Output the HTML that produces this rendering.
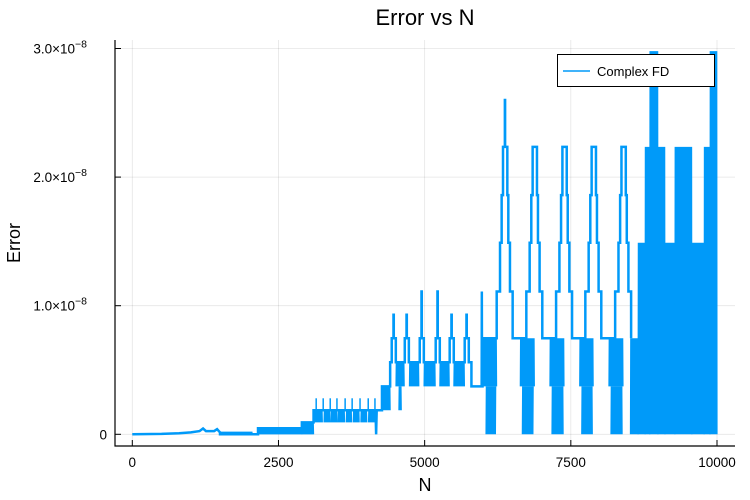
<!DOCTYPE html>
<html><head><meta charset="utf-8"><style>
body{margin:0;background:#fff;}
svg{display:block;font-family:"Liberation Sans","DejaVu Sans",sans-serif;}
</style></head><body>
<svg id="chart" width="750" height="500" viewBox="0 0 750 500">
<rect x="0" y="0" width="750" height="500" fill="#fff"/>
<g id="grid"></g>
<g id="series"></g>
<g id="axes"></g>
<text x="425" y="25" text-anchor="middle" font-size="22" fill="#000">Error vs N</text>
<text x="425" y="491" text-anchor="middle" font-size="18" fill="#000">N</text>
<text transform="translate(20,243) rotate(-90)" text-anchor="middle" font-size="18" fill="#000">Error</text>
<g>
<rect x="557.5" y="54.5" width="157" height="32" fill="#fff" stroke="#000" stroke-width="1"/>
<line x1="563" y1="71" x2="590" y2="71" stroke="#009af9" stroke-width="1.5"/>
<text x="597" y="76" font-size="13" fill="#000">Complex FD</text>
</g>
</svg>
<script>
// x ticks and y ticks
const xTicks = [0, 2500, 5000, 7500, 10000];
const yTicks = [0, 1, 2, 3]; // units of 1e-8
const yTickLabels = ["0", "1.0×10", "2.0×10", "3.0×10"];
// outline trace (N, error in units of 1e-9)
const lineN = [0,500,800,1000,1150,1210,1260,1400,1450,1500,1500,2050,2150,2150,2900,2900,3100,3100,4160,4170,4180,4270,4270,4410,4410,
4437,4437,4467,4467,4472,4472,4507,4507,
4660,4660,4690,4690,4695,4695,4730,4730,
4916,4916,4946,4946,4951,4951,4986,4986,
5189,5189,5219,5219,5224,5224,5259,5259,
5428,5428,5458,5458,5463,5463,5498,5498,
5685,5685,5715,5715,5720,5720,5755,5755,5800,5800,5975,5978,5981,5990,5990,6000,6000,6232,
6232,6289,6289,6317,6317,6340,6340,6372,6372,6376,6376,6414,6414,6431,6431,6459,6459,6505,6505,
6739,6739,6796,6796,6824,6824,6847,6847,6921,6921,6938,6938,6966,6966,7012,7012,
7248,7248,7305,7305,7333,7333,7356,7356,7430,7430,7447,7447,7475,7475,7521,7521,
7748,7748,7805,7805,7833,7833,7856,7856,7930,7930,7947,7947,7975,7975,8021,8021,
8258,8258,8315,8315,8343,8343,8366,8366,8440,8440,8457,8457,8485,8485,8531,8531];
const lineV = [0,0.03,0.08,0.15,0.25,0.45,0.25,0.25,0.4,0.15,0,0,0,0.47,0.47,0.93,0.93,1.87,1.87,0,1.87,1.87,3.73,3.73,5.6,
5.6,7.47,7.47,9.3,9.3,7.47,7.47,5.6,
5.6,7.47,7.47,9.3,9.3,7.47,7.47,5.6,
5.6,7.47,7.47,11.1,11.1,7.47,7.47,5.6,
5.6,7.47,7.47,11.1,11.1,7.47,7.47,5.6,
5.6,7.47,7.47,9.3,9.3,7.47,7.47,5.6,
5.6,7.47,7.47,9.3,9.3,7.47,7.47,5.6,5.6,3.73,3.73,11.1,3.73,3.73,5.6,5.6,7.47,7.47,
11.1,11.1,14.9,14.9,18.6,18.6,22.35,22.35,26,26,22.35,22.35,18.6,18.6,14.9,14.9,11.1,11.1,7.47,
7.47,11.1,11.1,14.9,14.9,18.6,18.6,22.35,22.35,18.6,18.6,14.9,14.9,11.1,11.1,7.47,
7.47,11.1,11.1,14.9,14.9,18.6,18.6,22.35,22.35,18.6,18.6,14.9,14.9,11.1,11.1,7.47,
7.47,11.1,11.1,14.9,14.9,18.6,18.6,22.35,22.35,18.6,18.6,14.9,14.9,11.1,11.1,7.47,
7.47,11.1,11.1,14.9,14.9,18.6,18.6,22.35,22.35,18.6,18.6,14.9,14.9,11.1,11.1,7.47];
// dense oscillating bands: start N, end N, low, high (units 1e-9)
const bandN0 = [1500,2150,2900,3110,3280,3400,3520,3660,3780,3910,4040,4270,4510,4560,4740,4990,5260,5500,6000,6050,6636,6671,7143,7178,7652,7687,8152,8187,8520,8650,8770,8850,8990,9110,9190,9280,9570,9650,9710,9780,9880];
const bandN1 = [2050,2900,3100,3250,3380,3500,3630,3750,3880,4010,4140,4410,4650,4600,4900,5180,5420,5680,6232,6215,6876,6860,7385,7370,7885,7870,8395,8380,8650,8770,8850,8990,9110,9280,9190,9570,9780,9650,9710,9880,10000];
const bandLo = [0,0,0,0.93,0.93,0.93,0.93,0.93,0.93,0.93,0.93,1.87,3.73,1.87,3.73,3.73,3.73,3.73,3.73,0,3.73,0,3.73,0,3.73,0,3.73,0,0,0,0,0,0,0,0,0,0,0,0,0,0];
const bandHi = [0.2,0.47,0.93,1.87,1.87,1.87,1.87,1.87,1.87,1.87,1.87,3.73,5.6,3.73,5.6,5.6,5.6,5.6,7.47,3.73,7.47,3.73,7.47,3.73,7.47,3.73,7.47,3.73,7.47,14.9,22.35,29.8,22.35,14.9,22.35,22.35,14.9,22.35,22.35,22.35,29.8];
// spikes: N, base, top
const spikeN = [3145,3265,3385,3500,3640,3760,3895,4035,4150];
const spikeLo = [1.87,1.87,1.87,1.87,1.87,1.87,1.87,1.87,1.87];
const spikeHi = [2.8,2.8,2.8,2.8,2.8,2.8,2.8,2.8,2.8];

const NS = 'http://www.w3.org/2000/svg';
const X0 = 132.3, XS = 584.7 / 10000;
const Y0 = 434.3, YS = 128.6 / 10; // px per 1e-9
const xp = n => X0 + n * XS;
const yp = v => Y0 - v * YS;
const color = '#009af9';

function mk(tag, attrs, parent) {
  const e = document.createElementNS(NS, tag);
  for (const k in attrs) e.setAttribute(k, attrs[k]);
  parent.appendChild(e);
  return e;
}
const grid = document.getElementById('grid');
const axes = document.getElementById('axes');
const series = document.getElementById('series');

xTicks.forEach((t, i) => {
  const g = mk('line', {x1: xp(t), x2: xp(t), y1: 40, y2: 446, stroke: '#000', 'stroke-opacity': 0.1, 'stroke-width': 0.8}, grid);
  
  
  const tk = mk('line', {x1: xp(t), x2: xp(t), y1: 446, y2: 440, stroke: '#000', 'stroke-width': 1}, axes);
  
  
  const lb = mk('text', {x: xp(t), y: 467, 'text-anchor': 'middle', 'font-size': 13.5, fill: '#000'}, axes);
  lb.textContent = String(t);
  
  
});
yTicks.forEach((t, i) => {
  const y = yp(t * 10);
  const g = mk('line', {x1: 115, x2: 735, y1: y, y2: y, stroke: '#000', 'stroke-opacity': 0.1, 'stroke-width': 0.8}, grid);
  
  
  const tk = mk('line', {x1: 115, x2: 121, y1: y, y2: y, stroke: '#000', 'stroke-width': 1}, axes);
  
  
  const lb = mk('text', {x: 107, y: y + 5, 'text-anchor': 'end', 'font-size': 13.5, fill: '#000'}, axes);
  
  
  if (t === 0) { lb.textContent = yTickLabels[i]; }
  else {
    lb.setAttribute('x', 87);
    lb.textContent = yTickLabels[i];
    const sp = mk('tspan', {dy: -6, 'font-size': 10.5}, lb);
    sp.textContent = '−8';
  }
});
const ax1 = mk('line', {x1: 115, x2: 115, y1: 40, y2: 446.5, stroke: '#000', 'stroke-width': 1.2}, axes);


const ax2 = mk('line', {x1: 114.5, x2: 735, y1: 446, y2: 446, stroke: '#000', 'stroke-width': 1.2}, axes);



// bands as dense zigzags
for (let i = 0; i < bandN0.length; i++) {
  let pts = [];
  let k = 0;
  for (let n = bandN0[i]; n <= bandN1[i]; n += 5) {
    pts.push(xp(n).toFixed(2) + ',' + yp(k % 2 ? bandHi[i] : bandLo[i]).toFixed(2));
    k++;
  }
  const p = mk('polyline', {points: pts.join(' '), fill: 'none', stroke: color, 'stroke-width': 1.2}, series);
  
  
}
for (let i = 0; i < spikeN.length; i++) {
  const s = mk('line', {x1: xp(spikeN[i]), x2: xp(spikeN[i]), y1: yp(spikeLo[i]), y2: yp(spikeHi[i]), stroke: color, 'stroke-width': 1.5}, series);
  
  
}
const linePts = lineN.map((n, i) => xp(n).toFixed(2) + ',' + yp(lineV[i]).toFixed(2)).join(' ');
const line = mk('polyline', {points: linePts, fill: 'none', stroke: color, 'stroke-width': 2.5, 'stroke-linejoin': 'miter'}, series);


</script>
</body></html>
